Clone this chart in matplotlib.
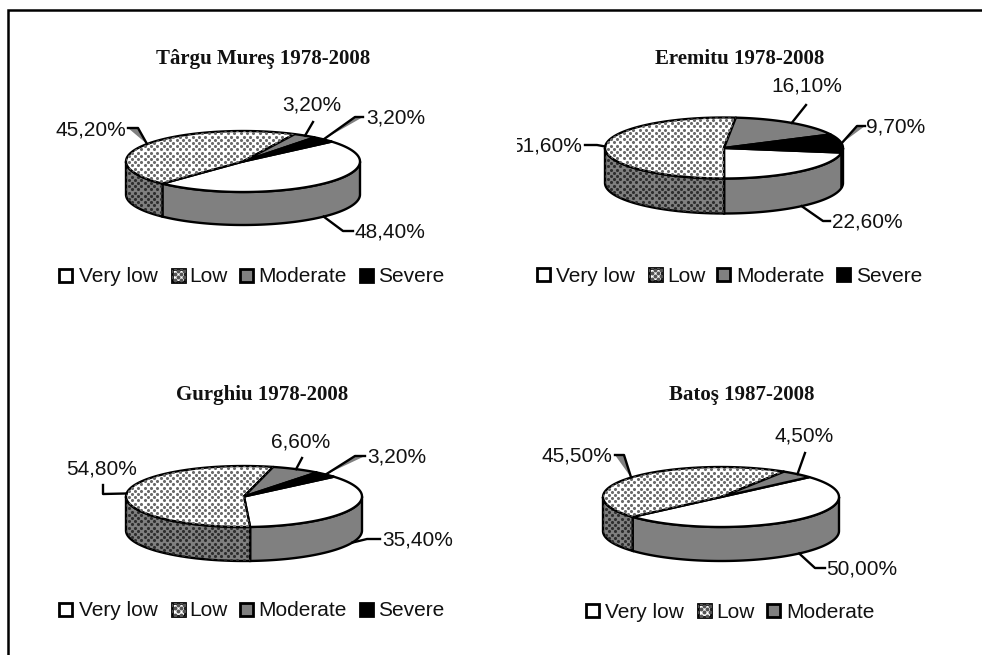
import matplotlib
matplotlib.use('Agg')
import matplotlib.pyplot as plt
import numpy as np
from matplotlib.patches import Polygon, Rectangle
from matplotlib.transforms import Bbox, TransformedBbox

categories = ['Very low', 'Low', 'Moderate', 'Severe']
titles = ['Târgu Mureş 1978-2008', 'Eremitu 1978-2008', 'Gurghiu 1978-2008', 'Batoş 1987-2008']
targu = [48.4, 45.2, 3.2, 3.2]
eremitu = [22.6, 51.6, 16.1, 9.7]
gurghiu = [35.4, 54.8, 6.6, 3.2]
batos = [50.0, 45.5, 4.5]
series = [targu, eremitu, gurghiu, batos]

# layout, in pixels of the 982x655 picture
centers = [(243, 161.5), (724, 148), (244, 496.5), (721, 497)]
radii = [(117, 30.5), (119, 30.5), (118, 30.5), (118, 30)]
depths = [33, 35, 34, 34]
starts = [40.7, -8.6, 40.4, 41.5]
title_pos = [(263, 59), (740, 59), (262.5, 395), (742, 395)]
label_pos = [
    [(390, 232), (90.5, 130), (312, 105), (396, 118)],
    [(867, 222), (546.5, 146), (807, 86), (896, 127)],
    [(418, 540), (102, 469), (301, 442), (397, 457)],
    [(862, 569), (577, 456), (804.5, 436)],
]
leader_pts = [
    [[(343, 231), (353, 231)], [(138, 128), (128, 128)], [(313, 122)], [(355, 117), (363, 117)]],
    [[(823, 221), (830, 221)], [(597, 145), (585, 145)], [(806, 105)], [(857, 126), (865, 126)]],
    [[(367, 539), (380, 539)], [(103, 494), (103, 485)], [(302, 458)], [(355, 456), (365, 456)]],
    [[(815, 568), (825, 568)], [(624, 455), (615, 455)], [(805, 453)]],
]
# leaders whose corner is filled grey in the original
filled_leaders = [(0, 1), (0, 3), (2, 3), (3, 1), (1, 3)]
legend_y = [277, 276, 611, 612]
legend_swatch = [[58, 171, 239, 359], [536, 648, 716, 836], [58, 171, 239, 359], [585, 697, 766]]
legend_text = [[79, 189, 258, 378], [556, 667, 736, 856], [79, 189, 258, 378], [605, 716, 786]]

top_colors = ['white', 'white', '#808080', 'black']
side_colors = ['#808080', '#808080', '#404040', 'black']
LW = 1.7


def rim(c, r, a1, a2, dy=0):
    t = np.radians(np.linspace(a1, a2, 80))
    return np.column_stack([c[0] + r[0] * np.cos(t), c[1] - r[1] * np.sin(t) + dy])


def dots(ax, patch, box, color, size):
    x0, y0, x1, y1 = box
    xs, ys = [], []
    for i, y in enumerate(np.arange(y0 - 4, y1 + 4, 3.2)):
        row = np.arange(x0 - 7 + (i % 2) * 3.2, x1 + 7, 6.4)
        xs.extend(row)
        ys.extend([y] * len(row))
    pts = ax.scatter(xs, ys, s=size, c=color, linewidths=0, zorder=patch.get_zorder() + 0.1)
    pts.set_clip_path(patch)


def draw_pie(ax, n):
    c, r, depth = centers[n], radii[n], depths[n]
    values = series[n]
    a = starts[n]
    spans = []
    for v in values:
        spans.append((a, a - v * 3.6))
        a -= v * 3.6

    # side wall, only the part facing the viewer
    for i, (a1, a2) in enumerate(spans):
        for k in (0, 360, -360):
            lo = max(a2 + k, -180)
            hi = min(a1 + k, 0)
            if hi <= lo:
                continue
            up = rim(c, r, hi, lo)
            down = rim(c, r, lo, hi, depth)
            poly = np.vstack([up, down])
            side = Polygon(poly, closed=True, fc=side_colors[i], ec='black', lw=LW, zorder=2)
            ax.add_patch(side)
            if i == 1:
                dots(ax, side, (*poly.min(axis=0), *poly.max(axis=0)), '#2e2e2e', 5)

    # top face
    for i, (a1, a2) in enumerate(spans):
        poly = np.vstack([[c], rim(c, r, a1, a2)])
        top = Polygon(poly, closed=True, fc=top_colors[i], ec='black', lw=LW, joinstyle='round', zorder=3)
        ax.add_patch(top)
        if i == 1:
            dots(ax, top, (*poly.min(axis=0), *poly.max(axis=0)), '#6a6a6a', 5)

    # labels and their leader lines
    for i, (a1, a2) in enumerate(spans):
        mid = np.radians((a1 + a2) / 2)
        ax_x = c[0] + r[0] * np.cos(mid)
        ax_y = c[1] - r[1] * np.sin(mid)
        if np.sin(mid) < 0:
            ax_y += depth
        line = [(ax_x, ax_y)] + leader_pts[n][i]
        if (n, i) in filled_leaders:
            ax.fill(*zip(*line), color='#808080', lw=0, zorder=3.5)
        ax.plot(*zip(*line), color='black', lw=LW, solid_joinstyle='round', zorder=4)
        txt = f'{values[i]:.2f}'.replace('.', ',') + '%'
        t = ax.text(*label_pos[n][i], txt, ha='center', va='center', fontsize=15,
                    family='Liberation Sans', color='#111111', zorder=5)
        if n == 1 and i == 1:
            # the first digit is cut off by the chart area in the original
            t.set_clip_box(TransformedBbox(Bbox([[517, 100], [700, 200]]), ax.transData))
            t.set_clip_on(True)

    ax.text(*title_pos[n], titles[n], ha='center', va='center', fontsize=15,
            family='Liberation Serif', fontweight='bold', color='#111111')

    # legend
    y = legend_y[n] - 2
    for i in range(len(values)):
        x = legend_swatch[n][i]
        sw = Rectangle((x + 1, y - 6.5), 13, 13, fc=top_colors[i], ec='black', lw=LW + 0.3, zorder=3)
        ax.add_patch(sw)
        if i == 1:
            dots(ax, sw, (x + 1, y - 6.5, x + 14, y + 6.5), '#555555', 8)
        ax.text(legend_text[n][i], y + 2, categories[i], ha='left', va='center', fontsize=15,
                family='Liberation Sans', color='#111111')


fig = plt.figure(figsize=(9.82, 6.55), dpi=100)
ax = fig.add_axes([0, 0, 1, 1])
ax.set_xlim(0, 982)
ax.set_ylim(655, 0)
ax.axis('off')

# frame: only the left and top sides show
ax.plot([8, 8, 982], [655, 10, 10], color='black', lw=1.8, solid_joinstyle='miter')

for n in range(len(series)):
    draw_pie(ax, n)

fig.savefig('out.png', dpi=100)
